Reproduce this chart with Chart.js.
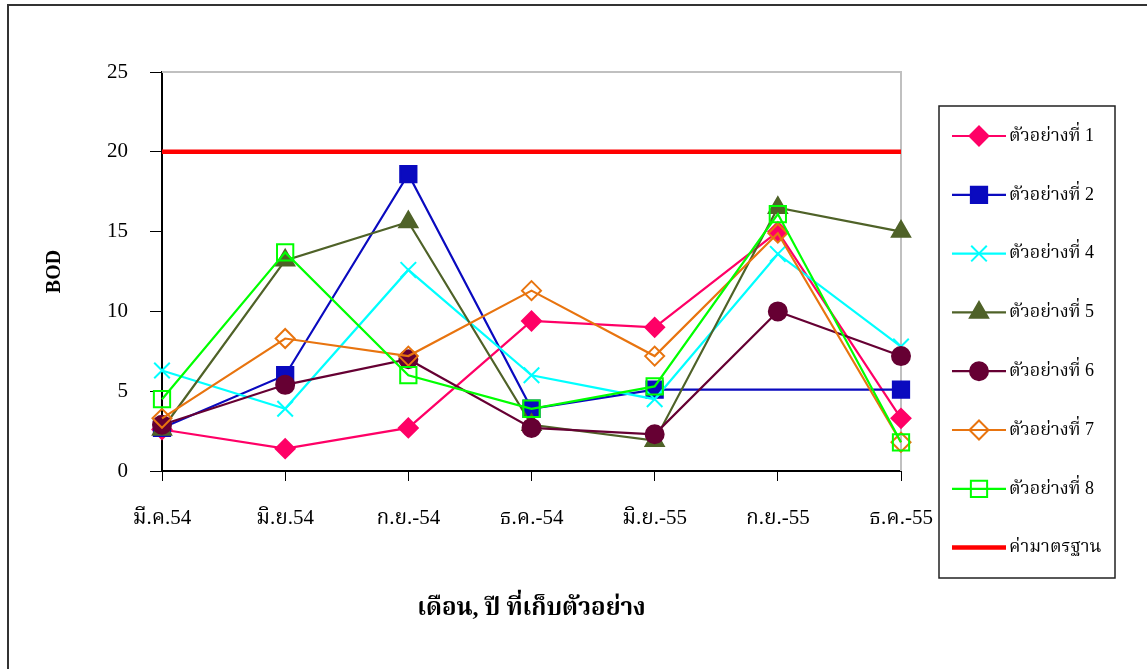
<!DOCTYPE html>
<html>
<head>
<meta charset="utf-8">
<script src="https://cdn.jsdelivr.net/npm/chart.js@4"></script>
<style>
html,body{margin:0;padding:0;background:#fff;}
#wrap{width:1147px;height:669px;position:relative;}
</style>
</head>
<body>
<div id="wrap"><canvas id="c" width="1147" height="669"></canvas></div>
<script>
const categories = ["มี.ค.54", "มิ.ย.54", "ก.ย.-54", "ธ.ค.-54", "มิ.ย.-55", "ก.ย.-55", "ธ.ค.-55"];
const sample1 = [2.6, 1.4, 2.7, 9.4, 9.0, 15.0, 3.3];
const sample2 = [2.7, 6.0, 18.6, 3.9, 5.1, null, 5.1];
const sample4 = [6.3, 3.9, 12.6, 6.0, 4.5, 13.6, 7.8];
const sample5 = [2.6, 13.2, 15.6, 2.9, 1.9, 16.5, 15.0];
const sample6 = [2.9, 5.4, 7.0, 2.7, 2.3, 10.0, 7.2];
const sample7 = [3.3, 8.3, 7.2, 11.3, 7.2, 14.9, 1.8];
const sample8 = [4.5, 13.7, 6.0, 3.9, 5.3, 16.1, 1.8];
const standard = [20, 20, 20, 20, 20, 20, 20];
const yTicks = [0, 5, 10, 15, 20, 25];
const seriesNames = ["ตัวอย่างที่ 1", "ตัวอย่างที่ 2", "ตัวอย่างที่ 4", "ตัวอย่างที่ 5", "ตัวอย่างที่ 6", "ตัวอย่างที่ 7", "ตัวอย่างที่ 8", "ค่ามาตรฐาน"];
const xTitle = "เดือน, ปี ที่เก็บตัวอย่าง";
const yTitle = "BOD";

const SERIF = '"Liberation Serif", "Noto Serif Thai", "Noto Sans Thai", "DejaVu Serif", serif';

function ds(label, data, color, style, radius, fill, extra) {
  return Object.assign({
    label: label, data: data,
    borderColor: color, backgroundColor: fill,
    pointBorderColor: color, pointBackgroundColor: fill,
    pointStyle: style, pointRadius: radius, pointHoverRadius: radius,
    pointBorderWidth: 2, borderWidth: 2.2, tension: 0, fill: false
  }, extra || {});
}

const datasets = [
  ds(seriesNames[0], sample1, "#FF0066", "rectRot", 9.5, "#FF0066"),
  ds(seriesNames[1], sample2, "#0A0ABF", "rect", 11.5, "#0A0ABF", {spanGaps: true}),
  ds(seriesNames[2], sample4, "#00FFFF", "crossRot", 11, "#00FFFF"),
  ds(seriesNames[3], sample5, "#4F6228", "triangle", 10.5, "#4F6228"),
  ds(seriesNames[4], sample6, "#660033", "circle", 9, "#660033"),
  ds(seriesNames[5], sample7, "#E8740F", "rectRot", 9.5, "rgba(0,0,0,0)"),
  ds(seriesNames[6], sample8, "#00FF00", "rect", 11.5, "rgba(0,0,0,0)"),
  ds(seriesNames[7], standard, "#FF0000", "line", 0, "#FF0000", {borderWidth: 4.5, pointRadius: 0})
];
// Excel-like stacking: later series drawn on top
datasets.forEach((d, i) => { d.order = datasets.length - i; });

const framePlugin = {
  id: 'frame',
  beforeDraw(chart) {
    const ctx = chart.ctx;
    ctx.save();
    ctx.fillStyle = '#fff';
    ctx.fillRect(0, 0, chart.width, chart.height);
    ctx.strokeStyle = '#333';
    ctx.lineWidth = 2;
    ctx.beginPath();
    ctx.moveTo(8, chart.height + 5);
    ctx.lineTo(8, 5);
    ctx.lineTo(chart.width + 5, 5);
    ctx.stroke();
    ctx.restore();
  },
  beforeDatasetsDraw(chart) {
    const a = chart.chartArea, ctx = chart.ctx;
    ctx.save();
    ctx.strokeStyle = '#C0C0C0';
    ctx.lineWidth = 2;
    ctx.beginPath();
    ctx.moveTo(a.left, a.top);
    ctx.lineTo(a.right, a.top);
    ctx.lineTo(a.right, a.bottom);
    ctx.stroke();
    ctx.restore();
  },
  afterDraw(chart) {
    // legend box (Excel style: line + marker)
    const ctx = chart.ctx;
    const bx = 939, by = 106, bw = 176, bh = 472;
    ctx.save();
    ctx.strokeStyle = '#222';
    ctx.lineWidth = 1.5;
    ctx.strokeRect(bx, by, bw, bh);
    chart.data.datasets.forEach((d, i) => {
      const y = 136 + i * 58.8;
      ctx.strokeStyle = d.borderColor;
      ctx.lineWidth = d.borderWidth;
      ctx.beginPath();
      ctx.moveTo(952, y);
      ctx.lineTo(1006, y);
      ctx.stroke();
      if (d.pointRadius > 0) {
        ctx.fillStyle = d.pointBackgroundColor;
        ctx.strokeStyle = d.pointBorderColor;
        ctx.lineWidth = 2;
        Chart.helpers.drawPoint(ctx, {pointStyle: d.pointStyle, radius: d.pointRadius, borderWidth: 2, rotation: 0}, 979, y);
      }
      ctx.fillStyle = '#000';
      ctx.font = '18px ' + SERIF;
      ctx.textBaseline = 'middle';
      ctx.textAlign = 'left';
      ctx.fillText(d.label, 1009, y);
    });
    ctx.restore();
  }
};

new Chart(document.getElementById('c'), {
  type: 'line',
  data: { labels: categories, datasets: datasets },
  plugins: [framePlugin],
  options: {
    responsive: false,
    animation: false,
    layout: { padding: { left: 0, right: 246, top: 72, bottom: 0 } },
    plugins: { legend: { display: false }, tooltip: { enabled: false } },
    scales: {
      x: {
        offset: false,
        afterFit: s => { s.height = 198; },
        grid: { drawOnChartArea: false, tickLength: 10, color: '#000', lineWidth: 1 },
        border: { color: '#000', width: 2 },
        ticks: { color: '#000', padding: 25, maxRotation: 0, autoSkip: false, font: { family: SERIF, size: 21 } },
        title: { display: true, text: xTitle, color: '#000', padding: { bottom: 46, top: 0 }, font: { family: SERIF, size: 24, weight: 'bold' } }
      },
      y: {
        min: 0, max: 25,
        afterFit: s => { s.width = 162; },
        afterBuildTicks: s => { s.ticks = yTicks.map(v => ({ value: v })); },
        grid: { drawOnChartArea: false, tickLength: 12, color: '#000', lineWidth: 1 },
        border: { color: '#000', width: 2 },
        ticks: { color: '#000', padding: 22, font: { family: SERIF, size: 21 } },
        title: { display: true, text: yTitle, color: '#000', padding: { top: 43, bottom: 0 }, font: { family: SERIF, size: 20, weight: 'bold' } }
      }
    }
  }
});
</script>
</body>
</html>
